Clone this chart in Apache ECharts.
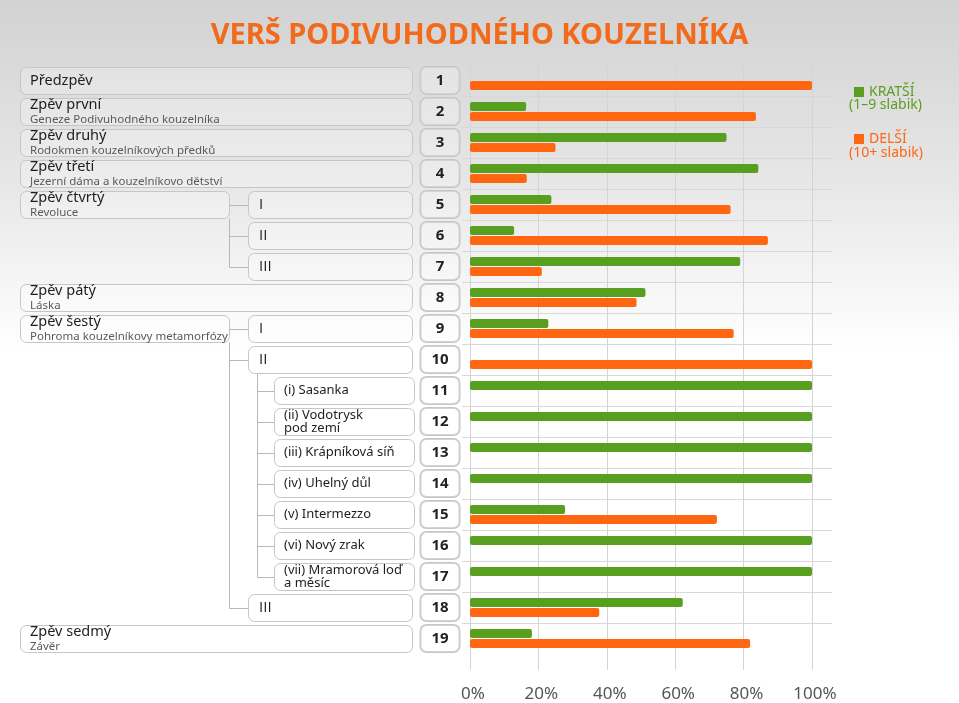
<!DOCTYPE html>
<html>
<head>
<meta charset="utf-8">
<script src="https://cdn.jsdelivr.net/npm/echarts@6/dist/echarts.min.js"></script>
<style>
  html, body { margin: 0; padding: 0; }
  #chart { width: 959px; height: 703px; }
</style>
</head>
<body>
<div id="chart"></div>
<script>
  // rows of the chart (verse sections)
  const rowNumbers = ['1', '2', '3', '4', '5', '6', '7', '8', '9', '10',
    '11', '12', '13', '14', '15', '16', '17', '18', '19'];
  // share of shorter (1-9 syllables) and longer (10+) verses, %
  const kratsi = [null, 16.4, 75.0, 84.3, 23.8, 12.9, 79.0, 51.3, 22.9, null,
    100, 100, 100, 100, 27.8, 100, 100, 62.2, 18.1];
  const delsi = [100, 83.6, 25.0, 16.6, 76.2, 87.1, 21.0, 48.7, 77.1, 100,
    null, null, null, null, 72.2, null, null, 37.8, 81.9];
  const xTicks = [0, 20, 40, 60, 80, 100];

  // left side labels
  const cantoTitles = ['Předzpěv', 'Zpěv první', 'Zpěv druhý', 'Zpěv třetí', 'Zpěv čtvrtý',
    'Zpěv pátý', 'Zpěv šestý', 'Zpěv sedmý'];
  const cantoSubtitles = ['', 'Geneze Podivuhodného kouzelníka', 'Rodokmen kouzelníkových předků',
    'Jezerní dáma a kouzelníkovo dětství', 'Revoluce', 'Láska',
    'Pohroma kouzelníkovy metamorfózy', 'Závěr'];
  const cantoRows = [0, 1, 2, 3, 4, 7, 8, 18];
  const partLabels = ['I', 'II', 'III', 'I', 'II', 'III'];
  const partRows = [4, 5, 6, 8, 9, 17];
  const subpartLabels = ['(i) Sasanka', '(ii) Vodotrysk\npod zemí', '(iii) Krápníková síň',
    '(iv) Uhelný důl', '(v) Intermezzo', '(vi) Nový zrak', '(vii) Mramorová loď\na měsíc'];
  const subpartRows = [10, 11, 12, 13, 14, 15, 16];

  const GREEN = '#589f1f';
  const ORANGE = '#ff6612';
  const FONT = 'Noto Sans';
  const GRID_TOP = 65;
  const ROW_H = 31;

  const chart = echarts.init(document.getElementById('chart'));

  chart.setOption({
    backgroundColor: {
      type: 'linear', x: 0, y: 0, x2: 0, y2: 1,
      colorStops: [
        {offset: 0, color: '#d2d2d2'},
        {offset: 0.25, color: '#e6e6e6'},
        {offset: 0.5, color: '#ffffff'},
        {offset: 1, color: '#ffffff'}
      ]
    },
    textStyle: {fontFamily: FONT},
    title: {
      text: 'VERŠ PODIVUHODNÉHO KOUZELNÍKA',
      left: 'center',
      top: 16,
      textStyle: {color: '#f26a1b', fontSize: 29, fontWeight: 'bold', fontFamily: FONT}
    },
    legend: {
      orient: 'vertical',
      left: 849,
      top: 80,
      icon: 'rect',
      itemWidth: 10,
      itemHeight: 10,
      itemGap: 33,
      textStyle: {fontSize: 14, fontFamily: FONT},
      data: [
        {name: 'KRATŠÍ', textStyle: {color: GREEN}},
        {name: 'DELŠÍ', textStyle: {color: ORANGE}}
      ]
    },
    grid: [
      {left: 470, width: 342, top: GRID_TOP, height: ROW_H * 19},
      {left: 462, width: 370, top: GRID_TOP, height: ROW_H * 19}
    ],
    xAxis: [
      {
        type: 'value',
        gridIndex: 0,
        min: 0,
        max: 100,
        interval: 20,
        axisLine: {show: false},
        axisTick: {show: true, length: 16, lineStyle: {color: '#d4d4d4'}},
        splitLine: {lineStyle: {color: '#d4d4d4'}},
        axisLabel: {
          formatter: '{value}%',
          margin: 32,
          fontSize: 17,
          color: '#555',
          padding: [0, 0, 0, 6],
          customValues: xTicks
        }
      },
      {type: 'value', gridIndex: 1, show: false}
    ],
    yAxis: [
      {
        type: 'category',
        gridIndex: 0,
        inverse: true,
        data: rowNumbers,
        axisLine: {show: false},
        axisTick: {show: false},
        axisLabel: {
          margin: 30,
          align: 'center',
          width: 39,
          height: 27,
          lineHeight: 27,
          backgroundColor: 'rgba(255,255,255,0.25)',
          borderColor: '#c6c6c6',
          borderWidth: 1,
          borderRadius: 6,
          fontSize: 15,
          fontWeight: 'bold',
          color: '#222'
        }
      },
      {
        type: 'category',
        gridIndex: 1,
        inverse: true,
        data: rowNumbers,
        axisLine: {show: false},
        axisTick: {show: false},
        axisLabel: {show: false},
        splitLine: {
          show: true,
          showMinLine: false,
          showMaxLine: false,
          lineStyle: {color: '#d8d8d8'}
        }
      }
    ],
    series: [
      {
        name: 'KRATŠÍ',
        type: 'bar',
        data: kratsi,
        barWidth: 9,
        barGap: '12%',
        itemStyle: {color: GREEN, borderRadius: 2}
      },
      {
        name: 'DELŠÍ',
        type: 'bar',
        data: delsi,
        barWidth: 9,
        barGap: '12%',
        itemStyle: {color: ORANGE, borderRadius: 2}
      }
    ]
  });

  function drawTree() {
    const rowY = i => chart.convertToPixel({yAxisIndex: 0}, i);
    const els = [];
    const boxStyle = {fill: 'rgba(255,255,255,0.25)', stroke: '#c6c6c6', lineWidth: 1};
    const lineStyle = {stroke: '#b8b8b8', lineWidth: 1};

    function box(x1, x2, cy) {
      els.push({
        type: 'rect',
        shape: {x: x1 + 0.5, y: Math.round(cy - 13.5) + 0.5, width: x2 - x1, height: 27, r: 6},
        style: boxStyle, silent: true
      });
    }
    function text(x, y, t, size, color, lh, family) {
      els.push({
        type: 'text', x: x, y: y, silent: true,
        style: {text: t, fontSize: size, fontFamily: family || FONT, fill: color,
          verticalAlign: 'middle', align: 'left', lineHeight: lh || size + 2}
      });
    }
    function line(x1, y1, x2, y2) {
      els.push({
        type: 'line', silent: true,
        shape: {x1: Math.round(x1) + 0.5, y1: Math.round(y1) + 0.5, x2: Math.round(x2) + 0.5, y2: Math.round(y2) + 0.5},
        style: lineStyle
      });
    }

    // cantos
    cantoRows.forEach((r, k) => {
      const cy = rowY(r);
      const hasParts = partRows.indexOf(r) >= 0;
      box(20, hasParts ? 229 : 412, cy);
      if (cantoSubtitles[k]) {
        text(30, cy - 6.5, cantoTitles[k], 14.5, '#1e1e1e');
        text(30, cy + 8.5, cantoSubtitles[k], 11.5, '#5a5a5a');
      } else {
        text(30, cy, cantoTitles[k], 14.5, '#1e1e1e');
      }
      if (hasParts) {
        const next = cantoRows[k + 1] === undefined ? 99 : cantoRows[k + 1];
        const mine = partRows.filter(p => p >= r && p < next);
        line(229, cy + 13.5, 229, rowY(mine[mine.length - 1]));
        mine.forEach(p => line(229, rowY(p), 248, rowY(p)));
      }
    });

    // parts (I, II, III)
    partRows.forEach((r, k) => {
      const cy = rowY(r);
      box(248, 412, cy);
      text(259, cy, partLabels[k], 15, '#1e1e1e', 17, 'Open Sans');
    });

    // sub parts of Zpěv šestý II
    const parent = partRows.filter(p => p < subpartRows[0]).pop();
    line(257, rowY(parent) + 13.5, 257, rowY(subpartRows[subpartRows.length - 1]));
    subpartRows.forEach((r, k) => {
      const cy = rowY(r);
      line(257, cy, 274, cy);
      box(274, 414, cy);
      text(284, cy, subpartLabels[k], 13, '#1e1e1e', 13);
    });

    // legend sub lines
    text(849, 105, '(1–9 slabik)', 14, GREEN);
    text(849, 153, '(10+ slabik)', 14, ORANGE);

    chart.setOption({graphic: {elements: els}});
  }

  drawTree();
</script>
</body>
</html>
